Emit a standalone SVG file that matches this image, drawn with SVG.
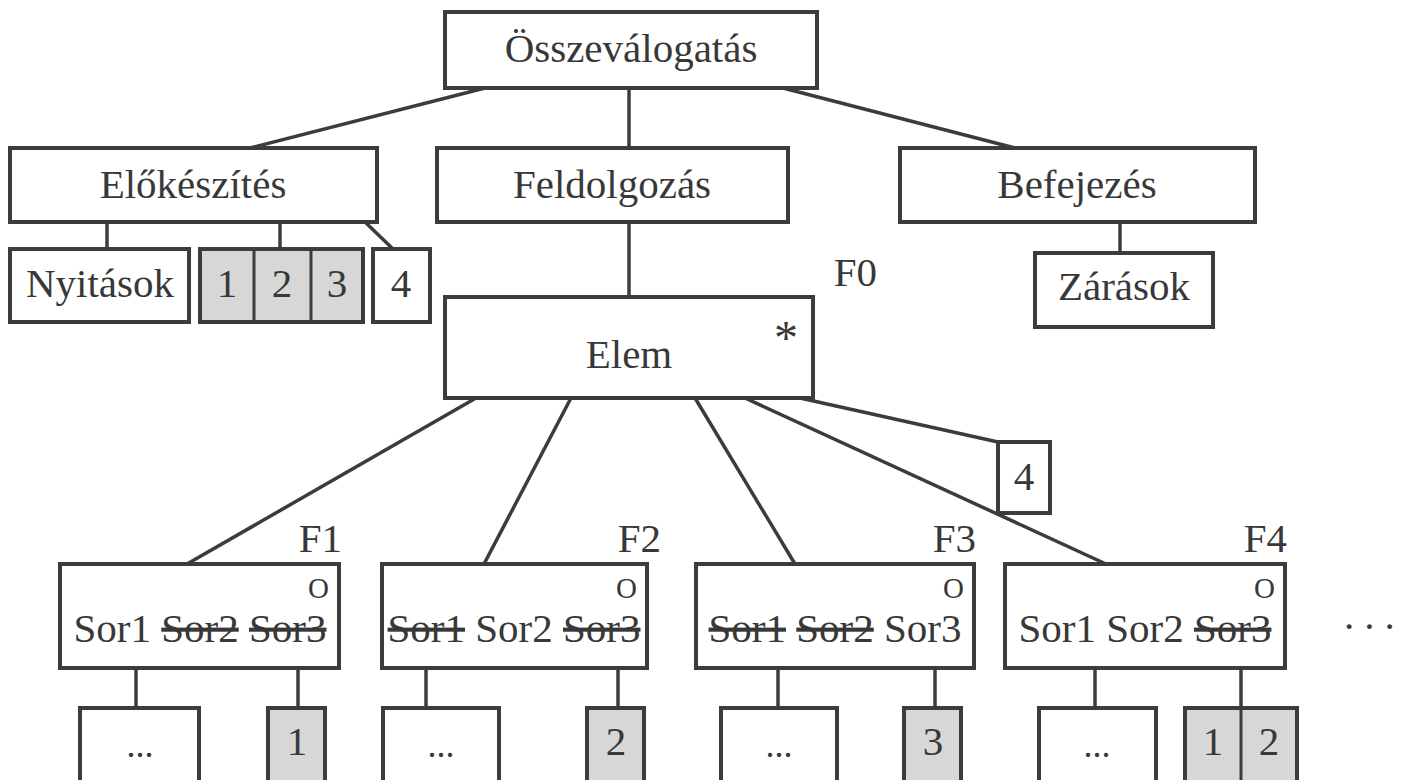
<svg xmlns="http://www.w3.org/2000/svg" width="1408" height="780" viewBox="0 0 1408 780">
  <style>
    .box { fill: #ffffff; stroke: #3c3c3c; stroke-width: 4; }
    .shade { fill: #d7d7d7; stroke: #3c3c3c; stroke-width: 4; }
    .div { stroke: #3c3c3c; stroke-width: 3; }
    .link { stroke: #3c3c3c; stroke-width: 3.5; fill: none; }
    text { font-family: "Liberation Serif", "Times New Roman", serif; font-size: 41px; fill: #383838; }
    .c { text-anchor: middle; }
    .e { text-anchor: end; }
    .sel { font-size: 29px; text-anchor: end; }
    .strike { text-decoration: line-through; }
    .dots { font-size: 36px; }
  </style>

  <rect width="1408" height="780" fill="#ffffff"/>

  <!-- connectors -->
  <g id="connectors">
    <line class="link" x1="485" y1="88" x2="250" y2="148"/>
    <line class="link" x1="629" y1="88" x2="629" y2="148"/>
    <line class="link" x1="783" y1="88" x2="1015" y2="148"/>

    <line class="link" x1="107" y1="222" x2="107" y2="249"/>
    <line class="link" x1="280" y1="222" x2="280" y2="249"/>
    <line class="link" x1="365" y1="222" x2="393" y2="249"/>

    <line class="link" x1="629" y1="222" x2="629" y2="297"/>
    <line class="link" x1="1120" y1="222" x2="1120" y2="253"/>

    <line class="link" x1="476" y1="398" x2="187" y2="564"/>
    <line class="link" x1="571" y1="398" x2="484" y2="564"/>
    <line class="link" x1="695" y1="398" x2="795" y2="564"/>
    <line class="link" x1="745" y1="398" x2="1106" y2="564"/>
    <line class="link" x1="800" y1="398" x2="998" y2="442"/>

    <line class="link" x1="136" y1="668" x2="136" y2="708"/>
    <line class="link" x1="298" y1="668" x2="298" y2="708"/>
    <line class="link" x1="426" y1="668" x2="426" y2="708"/>
    <line class="link" x1="618" y1="668" x2="618" y2="708"/>
    <line class="link" x1="778" y1="668" x2="778" y2="708"/>
    <line class="link" x1="935" y1="668" x2="935" y2="708"/>
    <line class="link" x1="1095" y1="668" x2="1095" y2="708"/>
    <line class="link" x1="1241" y1="668" x2="1241" y2="708"/>
  </g>

  <!-- root -->
  <g id="osszevalogatas">
    <rect class="box" x="445" y="12" width="372" height="76"/>
    <text class="c" x="631" y="62">Összeválogatás</text>
  </g>

  <!-- second level -->
  <g id="elokeszites">
    <rect class="box" x="10" y="148" width="367" height="74"/>
    <text class="c" x="193" y="198">Előkészítés</text>
  </g>
  <g id="feldolgozas">
    <rect class="box" x="437" y="148" width="351" height="74"/>
    <text class="c" x="612" y="198">Feldolgozás</text>
  </g>
  <g id="befejezes">
    <rect class="box" x="900" y="148" width="355" height="74"/>
    <text class="c" x="1077" y="198">Befejezés</text>
  </g>

  <!-- children of Előkészítés -->
  <g id="nyitasok">
    <rect class="box" x="10" y="249" width="179" height="73"/>
    <text class="c" x="100" y="297">Nyitások</text>
  </g>
  <g id="init-123">
    <rect class="shade" x="200" y="249" width="163" height="73"/>
    <line class="div" x1="254" y1="249" x2="254" y2="322"/>
    <line class="div" x1="311" y1="249" x2="311" y2="322"/>
    <text class="c" x="227" y="297">1</text>
    <text class="c" x="282" y="297">2</text>
    <text class="c" x="337" y="297">3</text>
  </g>
  <g id="init-4">
    <rect class="box" x="373" y="249" width="57" height="73"/>
    <text class="c" x="401" y="297">4</text>
  </g>

  <!-- child of Befejezés -->
  <g id="zarasok">
    <rect class="box" x="1035" y="253" width="178" height="74"/>
    <text class="c" x="1124" y="300">Zárások</text>
  </g>

  <!-- Elem iteration -->
  <g id="elem">
    <text class="e" x="877" y="286">F0</text>
    <rect class="box" x="445" y="297" width="368" height="101"/>
    <text class="c" x="629" y="368">Elem</text>
    <text class="c" x="786" y="354" style="font-size:48px">*</text>
  </g>
  <g id="elem-4">
    <rect class="box" x="998" y="442" width="52" height="71"/>
    <text class="c" x="1024" y="490">4</text>
  </g>

  <!-- selection boxes -->
  <g id="f1">
    <text class="e" x="342" y="552">F1</text>
    <rect class="box" x="60" y="564" width="279" height="104"/>
    <text class="sel" x="329" y="598">O</text>
    <text class="c" x="200" y="642">Sor1 <tspan class="strike">Sor2</tspan> <tspan class="strike">Sor3</tspan></text>
  </g>
  <g id="f2">
    <text class="e" x="661" y="552">F2</text>
    <rect class="box" x="382" y="564" width="265" height="104"/>
    <text class="sel" x="637" y="598">O</text>
    <text class="c" x="514" y="642"><tspan class="strike">Sor1</tspan> Sor2 <tspan class="strike">Sor3</tspan></text>
  </g>
  <g id="f3">
    <text class="e" x="976" y="552">F3</text>
    <rect class="box" x="696" y="564" width="278" height="104"/>
    <text class="sel" x="964" y="598">O</text>
    <text class="c" x="835" y="642"><tspan class="strike">Sor1</tspan> <tspan class="strike">Sor2</tspan> Sor3</text>
  </g>
  <g id="f4">
    <text class="e" x="1287" y="552">F4</text>
    <rect class="box" x="1005" y="564" width="280" height="104"/>
    <text class="sel" x="1275" y="598">O</text>
    <text class="c" x="1145" y="642">Sor1 Sor2 <tspan class="strike">Sor3</tspan></text>
  </g>
  <g id="more">
    <text x="1344" y="629" style="letter-spacing:10px">...</text>
  </g>

  <!-- leaves -->
  <g id="f1-rest">
    <rect class="box" x="80" y="708" width="119" height="90"/>
    <text class="c dots" x="140" y="757">...</text>
  </g>
  <g id="f1-1">
    <rect class="shade" x="268" y="708" width="57" height="90"/>
    <text class="c" x="297" y="755">1</text>
  </g>
  <g id="f2-rest">
    <rect class="box" x="383" y="708" width="116" height="90"/>
    <text class="c dots" x="441" y="757">...</text>
  </g>
  <g id="f2-2">
    <rect class="shade" x="587" y="708" width="57" height="90"/>
    <text class="c" x="616" y="755">2</text>
  </g>
  <g id="f3-rest">
    <rect class="box" x="721" y="708" width="116" height="90"/>
    <text class="c dots" x="779" y="757">...</text>
  </g>
  <g id="f3-3">
    <rect class="shade" x="904" y="708" width="57" height="90"/>
    <text class="c" x="933" y="755">3</text>
  </g>
  <g id="f4-rest">
    <rect class="box" x="1039" y="708" width="117" height="90"/>
    <text class="c dots" x="1097" y="757">...</text>
  </g>
  <g id="f4-12">
    <rect class="shade" x="1185" y="708" width="112" height="90"/>
    <line class="div" x1="1241" y1="708" x2="1241" y2="798"/>
    <text class="c" x="1213" y="755">1</text>
    <text class="c" x="1269" y="755">2</text>
  </g>
</svg>
